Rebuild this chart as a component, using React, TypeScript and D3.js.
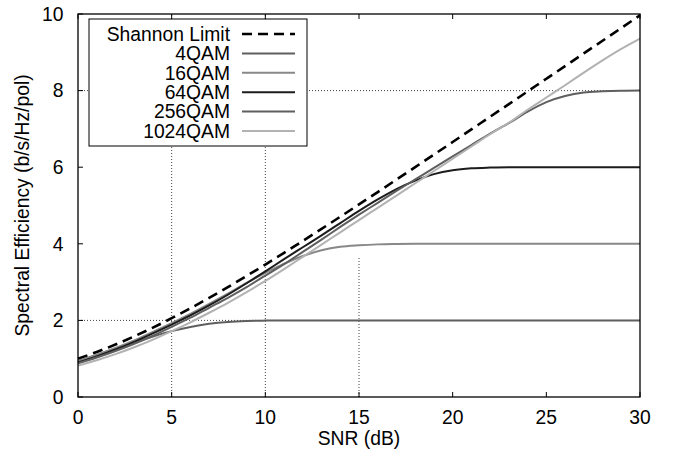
import React from "react";
import * as d3 from "d3";

const snr = d3.range(0, 31); // 0..30 dB
const shannon = [1.0, 1.176, 1.37, 1.583, 1.812, 2.057, 2.317, 2.588, 2.87, 3.161, 3.459, 3.764, 4.075, 4.389, 4.707, 5.028, 5.351, 5.676, 6.002, 6.329, 6.658, 6.988, 7.317, 7.647, 7.978, 8.309, 8.64, 8.971, 9.302, 9.634, 9.967];
const qam4 = [0.95, 1.1, 1.26, 1.42, 1.58, 1.72, 1.83, 1.91, 1.96, 1.985, 1.995, 2.0, 2.0, 2.0, 2.0, 2.0, 2.0, 2.0, 2.0, 2.0, 2.0, 2.0, 2.0, 2.0, 2.0, 2.0, 2.0, 2.0, 2.0, 2.0, 2.0];
const qam16 = [0.93, 1.1, 1.28, 1.48, 1.7, 1.93, 2.17, 2.43, 2.7, 2.98, 3.24, 3.48, 3.68, 3.83, 3.92, 3.96, 3.985, 3.995, 4.0, 4.0, 4.0, 4.0, 4.0, 4.0, 4.0, 4.0, 4.0, 4.0, 4.0, 4.0, 4.0];
const qam64 = [0.9, 1.06, 1.24, 1.44, 1.66, 1.89, 2.13, 2.39, 2.67, 2.97, 3.28, 3.6, 3.91, 4.22, 4.54, 4.86, 5.16, 5.43, 5.65, 5.82, 5.92, 5.97, 5.99, 6.0, 6.0, 6.0, 6.0, 6.0, 6.0, 6.0, 6.0];
const qam256 = [0.88, 1.03, 1.2, 1.39, 1.6, 1.83, 2.07, 2.33, 2.59, 2.87, 3.17, 3.47, 3.79, 4.11, 4.44, 4.76, 5.07, 5.38, 5.68, 5.98, 6.28, 6.58, 6.88, 7.15, 7.45, 7.7, 7.86, 7.95, 7.98, 7.995, 8.0];
const qam1024 = [0.82, 0.96, 1.12, 1.3, 1.5, 1.72, 1.95, 2.2, 2.46, 2.74, 3.03, 3.34, 3.66, 3.98, 4.3, 4.62, 4.94, 5.26, 5.58, 5.9, 6.22, 6.54, 6.86, 7.16, 7.5, 7.82, 8.14, 8.47, 8.79, 9.09, 9.36];

const seriesNames = ["Shannon Limit", "4QAM", "16QAM", "64QAM", "256QAM", "1024QAM"];
const seriesValues = [shannon, qam4, qam16, qam64, qam256, qam1024];
const seriesColors = ["#000000", "#5f5f5f", "#888888", "#1c1c1c", "#5f5f5f", "#b2b2b2"];
const seriesDash = ["10,6", null, null, null, null, null];
const seriesWidth = [2.6, 2, 2, 2, 2, 2];

const xTicks = [0, 5, 10, 15, 20, 25, 30];
const yTicks = [0, 2, 4, 6, 8, 10];
// dotted reference lines
const hRefY = [2, 8];
const vRefX = [5, 10, 15];
const vRefTop = [10, 10, 3.63];

export default function App() {
  const W = 675, H = 458;
  const x = d3.scaleLinear().domain([0, 30]).range([78, 640]);
  const y = d3.scaleLinear().domain([0, 10]).range([397, 14]);
  const line = d3
    .line<[number, number]>()
    .x((d) => x(d[0]))
    .y((d) => y(d[1]))
    .curve(d3.curveMonotoneX);

  const font = "'Liberation Sans', Arial, Helvetica, sans-serif";
  const fs = 19.3;

  const legX0 = 89, legY0 = 19, legX1 = 307, legY1 = 146;
  const rowY = (i: number) => 34 + i * 19.4;

  return (
    <svg
      width={W}
      height={H}
      style={{ position: "absolute", left: 0, top: 0, background: "#fff" }}
      fontFamily={font}
    >
      <rect x={0} y={0} width={W} height={H} fill="#fff" />
      {/* dotted reference lines */}
      {hRefY.map((v) => (
        <line key={"h" + v} x1={x(0)} x2={x(30)} y1={y(v)} y2={y(v)} stroke="#444" strokeWidth={1} strokeDasharray="1,2" />
      ))}
      {vRefX.map((v, i) => (
        <line key={"v" + v} x1={x(v)} x2={x(v)} y1={y(0)} y2={y(vRefTop[i])} stroke="#444" strokeWidth={1} strokeDasharray="1,2" />
      ))}
      {/* ticks */}
      {xTicks.map((t) => (
        <g key={"xt" + t}>
          <line x1={x(t)} x2={x(t)} y1={y(0)} y2={y(0) - 5} stroke="#000" strokeWidth={1} />
          <line x1={x(t)} x2={x(t)} y1={y(10)} y2={y(10) + 5} stroke="#000" strokeWidth={1} />
          <text x={x(t)} y={423.5} textAnchor="middle" fontSize={fs} fill="#000">
            {t}
          </text>
        </g>
      ))}
      {yTicks.map((t) => (
        <g key={"yt" + t}>
          <line x1={x(0)} x2={x(0) + 5} y1={y(t)} y2={y(t)} stroke="#000" strokeWidth={1} />
          <text x={63.5} y={y(t)} dy="0.35em" textAnchor="end" fontSize={fs} fill="#000">
            {t}
          </text>
        </g>
      ))}
      {/* curves */}
      {seriesValues.map((vals, i) => (
        <path
          key={"s" + i}
          d={line(snr.map((s, j) => [s, vals[j]] as [number, number])) || ""}
          fill="none"
          stroke={seriesColors[i]}
          strokeWidth={seriesWidth[i]}
          strokeDasharray={seriesDash[i] || undefined}
        />
      ))}
      {/* frame */}
      <rect x={x(0)} y={y(10)} width={x(30) - x(0)} height={y(0) - y(10)} fill="none" stroke="#000" strokeWidth={1.3} />
      {/* legend */}
      <rect x={legX0} y={legY0} width={legX1 - legX0} height={legY1 - legY0} fill="#fff" stroke="#000" strokeWidth={1} />
      {seriesNames.map((n, i) => (
        <g key={"l" + i}>
          <text x={230} y={rowY(i)} dy="0.35em" textAnchor="end" fontSize={fs} fill="#000">
            {n}
          </text>
          <line
            x1={242}
            x2={295}
            y1={rowY(i)}
            y2={rowY(i)}
            stroke={seriesColors[i]}
            strokeWidth={seriesWidth[i]}
            strokeDasharray={seriesDash[i] || undefined}
          />
        </g>
      ))}
      {/* axis labels */}
      <text x={x(15)} y={445} textAnchor="middle" fontSize={fs} fill="#000">
        SNR (dB)
      </text>
      <text
        transform={`translate(29, ${(y(0) + y(10)) / 2}) rotate(-90)`}
        textAnchor="middle"
        fontSize={fs}
        fill="#000"
      >
        Spectral Efficiency (b/s/Hz/pol)
      </text>
    </svg>
  );
}
